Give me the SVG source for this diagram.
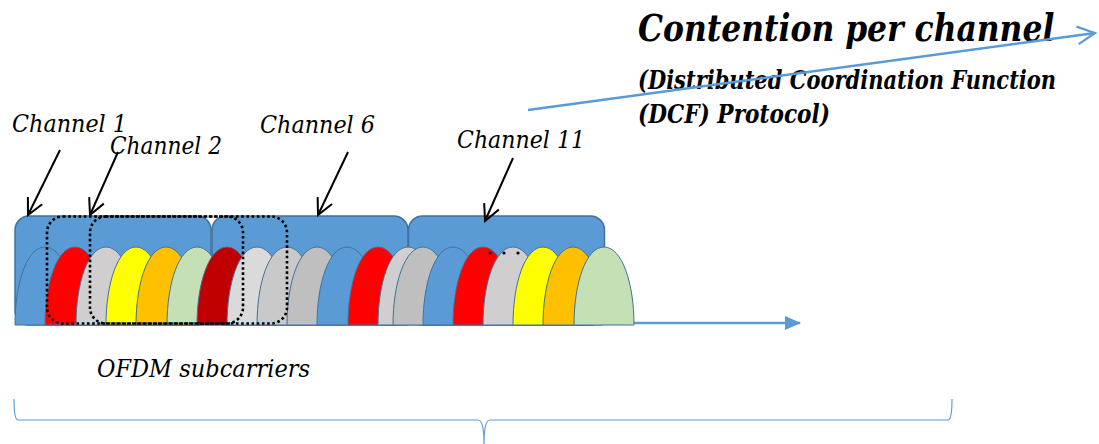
<svg xmlns="http://www.w3.org/2000/svg" xmlns:xlink="http://www.w3.org/1999/xlink" width="1099" height="444" viewBox="0 0 1099 444">
  <style>
    .lbl { font-family: "DejaVu Serif", serif; font-style: italic; fill: #000; }
    .ch { font-size: 24.5px; }
    .title { font-size: 38px; font-weight: bold; }
    .sub { font-size: 25.5px; font-weight: bold; }
    .ofdm { font-size: 25px; }
    .block { fill: #5B9BD5; stroke: #41719C; stroke-width: 1.5; }
    .arch { stroke: #41719C; stroke-width: 1; }
    .blue { fill: #5B9BD5; }
    .red { fill: #FF0000; }
    .dred { fill: #C00000; }
    .lgray { fill: #D0CECE; }
    .vlgray { fill: #DADADA; }
    .mgray { fill: #C9C9C9; }
    .gray { fill: #BFBFBF; }
    .yellow { fill: #FFFF00; }
    .orange { fill: #FFC000; }
    .green { fill: #C5E0B4; }
    .dotted { fill: none; stroke: #000; stroke-width: 2.6; stroke-dasharray: 2.6 2.6; }
    .pointer { fill: none; stroke: #000; stroke-width: 2; }
    .bline { fill: none; stroke: #5B9BD5; stroke-width: 2.5; }
    .brace { fill: none; stroke: #5B9BD5; stroke-width: 1.2; }
  </style>
  <defs>
    <!-- one subcarrier lobe, 60 px wide, base at y=0 -->
    <path id="arch" d="M0,0 C0,-42 12,-78 30,-78 C48,-78 60,-42 60,0 Z"/>
    <marker id="openHead" viewBox="0 0 20 20" refX="18" refY="10" markerWidth="20" markerHeight="20" markerUnits="userSpaceOnUse" orient="auto">
      <path d="M2,2 L18,10 L2,18" fill="none" stroke="#000" stroke-width="2"/>
    </marker>
    <marker id="openHeadBlue" viewBox="0 0 20 20" refX="18" refY="10" markerWidth="22" markerHeight="22" markerUnits="userSpaceOnUse" orient="auto">
      <path d="M2,2 L18,10 L2,18" fill="none" stroke="#5B9BD5" stroke-width="2"/>
    </marker>
    <marker id="solidHeadBlue" viewBox="0 0 16 16" refX="15" refY="8" markerWidth="16" markerHeight="16" markerUnits="userSpaceOnUse" orient="auto">
      <path d="M0,1 L16,8 L0,15 Z" fill="#5B9BD5"/>
    </marker>
  </defs>

  <!-- frequency axis -->
  <g id="axis">
    <line class="bline" x1="15" y1="323" x2="800" y2="323" marker-end="url(#solidHeadBlue)"/>
  </g>

  <!-- 20 MHz channel blocks -->
  <g id="channel-blocks">
    <rect class="block" x="15" y="216" width="196" height="109" rx="14"/>
    <rect class="block" x="212" y="216" width="196" height="109" rx="14"/>
    <rect class="block" x="408.5" y="216" width="196" height="109" rx="14"/>
  </g>

  <!-- OFDM subcarriers, each drawn over the previous one -->
  <g id="subcarriers" transform="translate(0,325)">
    <use xlink:href="#arch" class="arch blue" x="15"/>
    <use xlink:href="#arch" class="arch red" x="45"/>
    <use xlink:href="#arch" class="arch lgray" x="76"/>
    <use xlink:href="#arch" class="arch yellow" x="106"/>
    <use xlink:href="#arch" class="arch orange" x="136"/>
    <use xlink:href="#arch" class="arch green" x="167"/>
    <use xlink:href="#arch" class="arch dred" x="197"/>
    <use xlink:href="#arch" class="arch vlgray" x="227"/>
    <use xlink:href="#arch" class="arch mgray" x="257"/>
    <use xlink:href="#arch" class="arch gray" x="287"/>
    <use xlink:href="#arch" class="arch blue" x="317"/>
    <use xlink:href="#arch" class="arch red" x="348"/>
    <use xlink:href="#arch" class="arch lgray" x="378"/>
    <use xlink:href="#arch" class="arch gray" x="393"/>
    <use xlink:href="#arch" class="arch blue" x="423"/>
    <use xlink:href="#arch" class="arch red" x="453"/>
    <use xlink:href="#arch" class="arch lgray" x="483"/>
    <use xlink:href="#arch" class="arch yellow" x="513"/>
    <use xlink:href="#arch" class="arch orange" x="543"/>
    <use xlink:href="#arch" class="arch green" x="574"/>
  </g>

  <!-- ellipsis dots -->
  <g id="dots" fill="#000">
    <circle cx="490" cy="253" r="1.6"/>
    <circle cx="504" cy="253" r="1.6"/>
    <circle cx="518" cy="253" r="1.6"/>
  </g>

  <!-- overlapping channel outlines -->
  <g id="overlap-outlines">
    <rect class="dotted" x="47" y="216.5" width="196" height="107" rx="16"/>
    <rect class="dotted" x="90" y="216.5" width="197" height="107" rx="16"/>
  </g>

  <!-- labels -->
  <g id="channel-1">
    <text class="lbl ch" x="12" y="132" textLength="115" lengthAdjust="spacingAndGlyphs">Channel 1</text>
  </g>
  <g id="channel-2">
    <text class="lbl ch" x="110" y="154" textLength="112" lengthAdjust="spacingAndGlyphs">Channel 2</text>
  </g>
  <g id="channel-6">
    <text class="lbl ch" x="260" y="133" textLength="115" lengthAdjust="spacingAndGlyphs">Channel 6</text>
  </g>
  <g id="channel-11">
    <text class="lbl ch" x="457" y="148" textLength="128" lengthAdjust="spacingAndGlyphs">Channel 11</text>
  </g>
  <g id="ofdm-label">
    <text class="lbl ofdm" x="97" y="377" textLength="213" lengthAdjust="spacingAndGlyphs">OFDM subcarriers</text>
  </g>
  <g id="contention">
    <!-- long lines are narrowed with a horizontal scale so they stay inside the canvas -->
    <text class="lbl title" transform="translate(638,41) scale(0.79,1)" textLength="527" lengthAdjust="spacingAndGlyphs">Contention per channel</text>
    <text class="lbl sub" transform="translate(638,89) scale(0.78,1)" textLength="536" lengthAdjust="spacingAndGlyphs">(Distributed Coordination Function</text>
    <text class="lbl sub" x="638" y="123" textLength="192" lengthAdjust="spacingAndGlyphs">(DCF) Protocol)</text>
  </g>

  <g id="connectors">
    <line class="pointer" x1="60" y1="150" x2="28" y2="215" marker-end="url(#openHead)"/>
    <line class="pointer" x1="118" y1="152" x2="90" y2="215" marker-end="url(#openHead)"/>
    <line class="pointer" x1="348" y1="152" x2="318" y2="215" marker-end="url(#openHead)"/>
    <line class="pointer" x1="513" y1="158" x2="485" y2="221" marker-end="url(#openHead)"/>
    <line class="bline" x1="528" y1="110" x2="1095" y2="33" marker-end="url(#openHeadBlue)"/>
  </g>

  <!-- brace under the band -->
  <g id="brace">
    <path class="brace" d="M14,399 Q14,420 18,420 L478,420 Q484,420 484,444 Q484,420 490,420 L948,420 Q952,420 952,399"/>
  </g>
</svg>
